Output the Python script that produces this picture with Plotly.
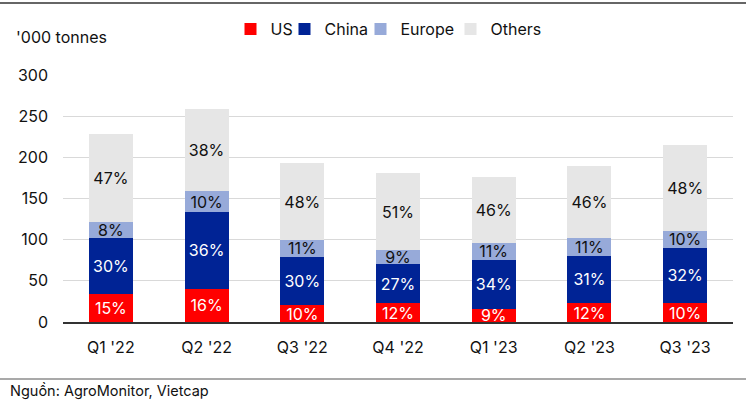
import plotly.graph_objects as go

categories = ["Q1 '22", "Q2 '22", "Q3 '22", "Q4 '22", "Q1 '23", "Q2 '23", "Q3 '23"]
us = [34.6, 40.3, 20.6, 22.5, 16.1, 23.0, 23.0]
china = [67.5, 93.3, 58.5, 48.5, 59.4, 57.3, 67.4]
europe = [19.4, 25.1, 20.6, 16.6, 20.5, 21.8, 20.2]
others = [107.4, 99.7, 93.3, 93.0, 80.0, 87.2, 104.2]

us_lbl = ["15%", "16%", "10%", "12%", "9%", "12%", "10%"]
china_lbl = ["30%", "36%", "30%", "27%", "34%", "31%", "32%"]
europe_lbl = ["8%", "10%", "11%", "9%", "11%", "11%", "10%"]
others_lbl = ["47%", "38%", "48%", "51%", "46%", "46%", "48%"]

FONT = "Inter"
series = [
    ("US", us, us_lbl, "#FF0000", "white"),
    ("China", china, china_lbl, "#002395", "white"),
    ("Europe", europe, europe_lbl, "#97AAD9", "#111111"),
    ("Others", others, others_lbl, "#E6E6E6", "#111111"),
]
# left pixel of each legend entry's text in the reference
legend_text_px = [271, 325, 401, 491]
legend_ids = ["legend", "legend2", "legend3", "legend4"]

fig = go.Figure()
for (name, vals, lbl, col, tcol), lid in zip(series, legend_ids):
    fig.add_trace(go.Bar(
        x=categories, y=vals, name=name, marker=dict(color=col, line=dict(width=0)),
        text=lbl, textposition="inside", insidetextanchor="middle",
        textangle=0, constraintext="none",
        textfont=dict(family=FONT, size=16, color=tcol),
        cliponaxis=False, legend=lid,
    ))

legend_layout = {}
for lid, px in zip(legend_ids, legend_text_px):
    legend_layout[lid] = dict(
        orientation="h", x=(px - 63 - 40 - 0.5) / 670, xanchor="left",
        y=(322 - 29) / 247, yanchor="middle",
        font=dict(family=FONT, size=16, color="#111111"),
        itemwidth=30, bgcolor="rgba(0,0,0,0)", borderwidth=0,
    )

fig.update_layout(
    barmode="stack", bargap=0.54,
    width=750, height=402,
    margin=dict(l=63, r=17, t=75, b=80, autoexpand=False),
    paper_bgcolor="white", plot_bgcolor="white",
    font=dict(family=FONT, size=16, color="#111111"),
    showlegend=True,
    uniformtext=dict(mode=False),
    **legend_layout,
)
fig.update_yaxes(range=[0, 300], dtick=50, showgrid=True, gridcolor="#D9D9D9", gridwidth=1.3,
                 zeroline=False, showline=False, ticks="", ticklabelstandoff=14,
                 tickfont=dict(family=FONT, size=16, color="#111111"))
fig.update_xaxes(showline=True, linecolor="#333333", linewidth=1.5, ticks="",
                 ticklabelstandoff=10,
                 tickfont=dict(family=FONT, size=16, color="#111111"))

fig.add_annotation(text="'000 tonnes", xref="paper", yref="paper", x=-63/670 + 14/670, y=(322-37)/247,
                   xanchor="left", yanchor="middle", showarrow=False,
                   font=dict(family=FONT, size=16, color="#111111"))
fig.add_annotation(text="Nguồn: AgroMonitor, Vietcap", xref="paper", yref="paper",
                   x=-63/670 + 8/670, y=(322-391)/247, xanchor="left", yanchor="middle",
                   showarrow=False, font=dict(family=FONT, size=14.5, color="#111111"))
fig.add_shape(type="line", xref="paper", yref="paper", x0=-63/670, x1=(746-63)/670,
              y0=(322-3)/247, y1=(322-3)/247, line=dict(color="#333333", width=1.5))
fig.add_shape(type="line", xref="paper", yref="paper", x0=-63/670, x1=(746-63)/670,
              y0=(322-379)/247, y1=(322-379)/247, line=dict(color="#555555", width=1.2))

fig.write_html("out.html", config={"displayModeBar": False},
               post_script="document.body.style.margin='0';document.body.style.overflow='hidden';")
